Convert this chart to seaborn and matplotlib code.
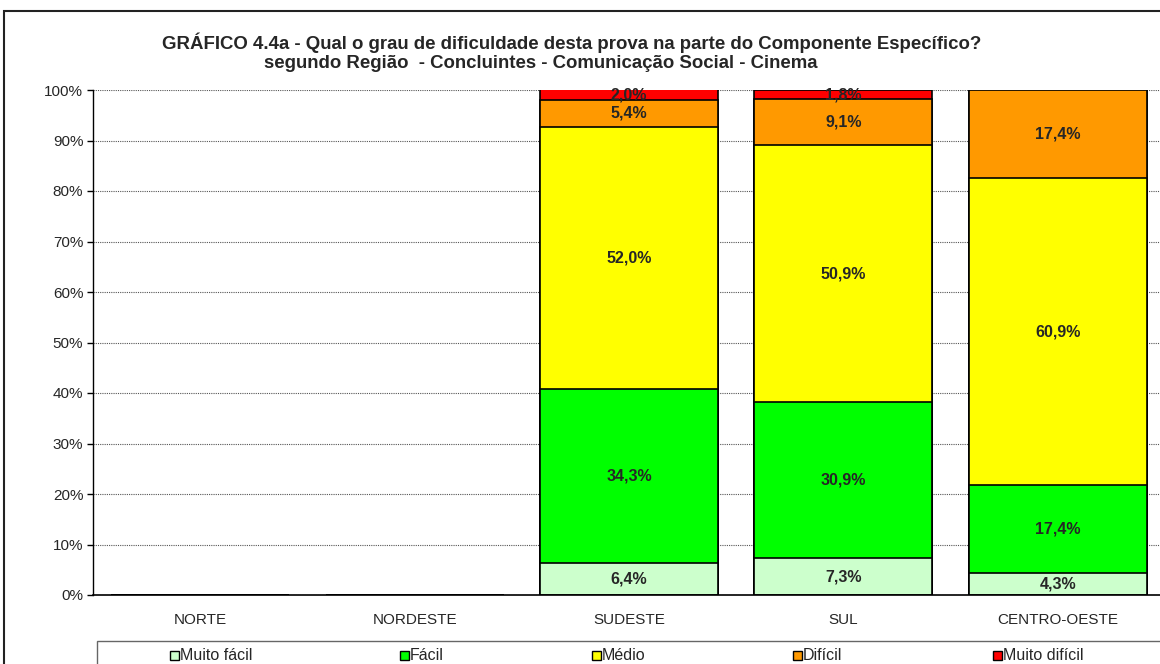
import numpy as np
import pandas as pd
import seaborn as sns
import matplotlib.pyplot as plt
from matplotlib.patches import Rectangle

sns.set_style('white')
plt.rcParams['font.family'] = ['Liberation Sans', 'DejaVu Sans']

regioes = ['NORTE', 'NORDESTE', 'SUDESTE', 'SUL', 'CENTRO-OESTE']
niveis = ['Muito fácil', 'Fácil', 'Médio', 'Difícil', 'Muito difícil']
muito_facil = [0, 0, 6.4, 7.3, 4.3]
facil = [0, 0, 34.3, 30.9, 17.4]
medio = [0, 0, 52.0, 50.9, 60.9]
dificil = [0, 0, 5.4, 9.1, 17.4]
muito_dificil = [0, 0, 2.0, 1.8, 0]
cores = ['#CCFFCC', '#00FF00', '#FFFF00', '#FF9900', '#FF0000']

vals = np.array([muito_facil, facil, medio, dificil, muito_dificil])
cum = vals.cumsum(axis=0)

W, H = 1160, 664
fig = plt.figure(figsize=(11.6, 6.64), dpi=100)
ax = fig.add_axes([93 / W, 1 - 595 / H, 1072 / W, 505 / H])

# stacked: draw tallest cumulative first, then overlay the lower ones
for i in range(len(niveis) - 1, -1, -1):
    df = pd.DataFrame({'regiao': regioes, 'valor': cum[i]})
    sns.barplot(data=df, x='regiao', y='valor', order=regioes, color=cores[i],
                saturation=1, width=0.83, edgecolor='black', linewidth=1.2, ax=ax)

for j in range(len(regioes)):
    for i in range(len(niveis)):
        v = vals[i, j]
        if v <= 0:
            continue
        y = cum[i, j] - v / 2
        ax.text(j, min(y, 99.0), f'{v:.1f}%'.replace('.', ','), ha='center', va='center',
                fontsize=11.5, fontweight='bold', zorder=5)

ax.set_ylim(0, 100)
ax.set_xlim(-0.5, 4.5)
ax.set_yticks(np.arange(0, 101, 10))
ax.set_yticklabels([f'{t}%' for t in range(0, 101, 10)], fontsize=11)
ax.set_xticks(range(5))
ax.set_xticklabels(regioes, fontsize=11)
ax.set_xticks(np.arange(-0.5, 4.6, 1), minor=True)
ax.tick_params(axis='x', which='major', length=0, pad=13)
ax.tick_params(axis='x', which='minor', length=5, direction='out', color='black', width=1)
ax.tick_params(axis='y', length=4, direction='out', color='black', width=1, pad=3, left=True)
ax.set_xlabel('')
ax.set_ylabel('')
ax.set_axisbelow(True)
ax.yaxis.grid(True, linestyle=(0, (1, 1)), color='#555555', linewidth=0.8)
for s in ['top', 'right']:
    ax.spines[s].set_visible(False)
ax.spines['left'].set_color('black')
ax.spines['bottom'].set_color('black')
ax.spines['left'].set_linewidth(1)
ax.spines['bottom'].set_linewidth(1.2)

fig.text(572 / W, 1 - 43 / H, 'GRÁFICO 4.4a - Qual o grau de dificuldade desta prova na parte do Componente Específico?',
         ha='center', va='center', fontsize=13.4, fontweight='bold')
fig.text(541 / W, 1 - 63.5 / H, 'segundo Região  - Concluintes - Comunicação Social - Cinema',
         ha='center', va='center', fontsize=13.4, fontweight='bold')

# outer chart border
fig.patches.append(Rectangle((4 / W, -0.1), 1.2, 1.1 - 12 / H + 0.002, transform=fig.transFigure,
                             fill=False, edgecolor='#222222', linewidth=1.5))

# legend box and entries
fig.patches.append(Rectangle((97 / W, -0.1), 1.2, 0.1 + 1 - 641 / H, transform=fig.transFigure,
                             fill=False, edgecolor='#666666', linewidth=1))
leg_x = [170, 400, 592, 793, 993]
for x, nome, c in zip(leg_x, niveis, cores):
    fig.patches.append(Rectangle((x / W, 1 - 660 / H), 9 / W, 9 / H, transform=fig.transFigure,
                                 facecolor=c, edgecolor='black', linewidth=1))
    fig.text((x + 10) / W, 1 - 655.5 / H, nome, ha='left', va='center', fontsize=11.5)

plt.savefig('out.png', dpi=100)
